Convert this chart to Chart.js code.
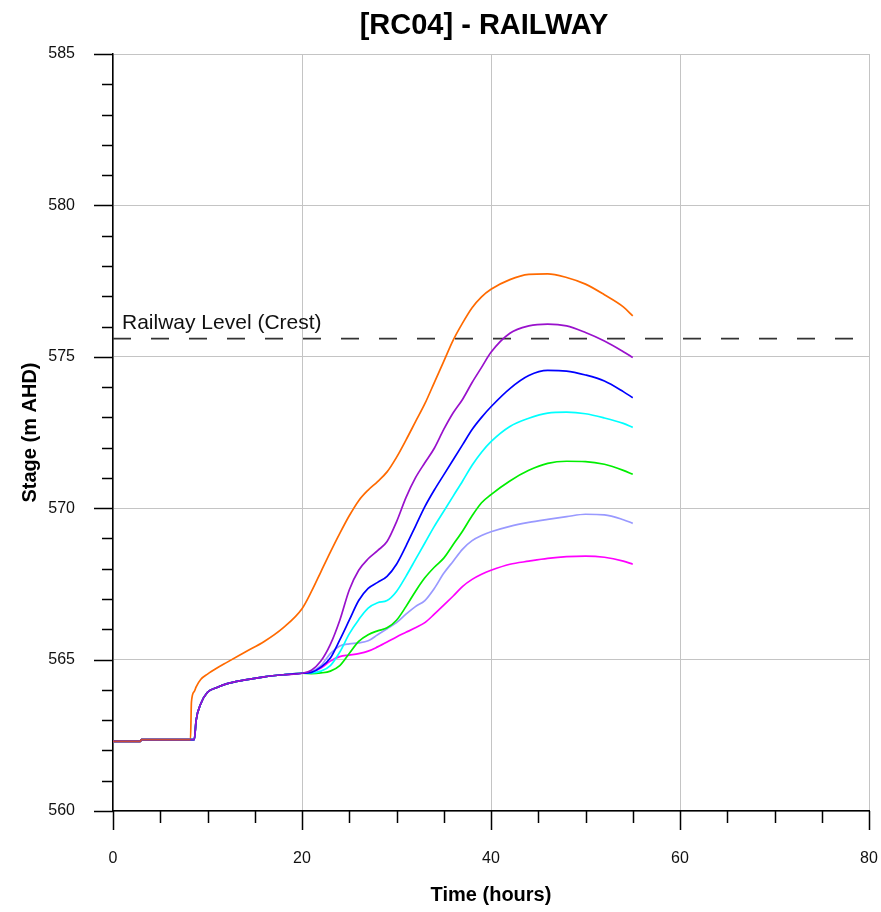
<!DOCTYPE html>
<html>
<head>
<meta charset="utf-8">
<script src="https://cdn.jsdelivr.net/npm/chart.js@4"></script>
<style>
  body { margin: 0; background: #fff; }
  #wrap { width: 881px; height: 912px; }
</style>
</head>
<body>
<div id="wrap"><canvas id="stageChart"></canvas></div>
<script>
// time axis (hours) shared by all runs
const hours = [0, 2.9, 3, 8.2, 8.3, 8.6, 8.8, 9.3, 10, 11, 12, 14, 16, 18,
  20, 21, 22, 23, 24, 25, 26, 27, 28, 29, 30, 31, 32, 33, 34, 35, 36, 37, 38, 39, 40,
  42, 44, 46, 48, 50, 52, 54, 55];

// stage (m AHD) for each run
const orangeStage = [562.3, 562.3, 562.36, 562.36, 563.6, 563.95, 564.1, 564.35, 564.52, 564.72, 564.9, 565.25, 565.6, 566.05,
  566.68, 567.25, 567.9, 568.55, 569.17, 569.75, 570.25, 570.6, 570.88, 571.2, 571.68, 572.25, 572.85, 573.45, 574.15, 574.85, 575.55, 576.12, 576.62, 576.98, 577.23,
  577.55, 577.72, 577.74, 577.62, 577.4, 577.05, 576.65, 576.35];
const purpleStage = [562.3, 562.3, 562.36, 562.36, 562.36, 562.36, 563.0, 563.55, 563.92, 564.08, 564.2, 564.33, 564.43, 564.5,
  564.55, 564.65, 564.95, 565.5, 566.3, 567.3, 567.95, 568.33, 568.6, 568.9, 569.55, 570.35, 571.0, 571.5, 571.98, 572.6, 573.15, 573.6, 574.15, 574.65, 575.15,
  575.78, 576.02, 576.08, 576.02, 575.8, 575.52, 575.17, 574.98];
const blueStage = [562.3, 562.3, 562.36, 562.36, 562.36, 562.36, 563.0, 563.55, 563.92, 564.08, 564.2, 564.33, 564.43, 564.5,
  564.55, 564.58, 564.75, 565.05, 565.65, 566.3, 566.95, 567.35, 567.55, 567.75, 568.15, 568.75, 569.4, 570.05, 570.6, 571.1, 571.6, 572.1, 572.6, 573.0, 573.35,
  573.95, 574.38, 574.55, 574.53, 574.4, 574.2, 573.85, 573.65];
const cyanStage = [562.3, 562.3, 562.36, 562.36, 562.36, 562.36, 563.0, 563.55, 563.92, 564.08, 564.2, 564.33, 564.43, 564.5,
  564.55, 564.56, 564.62, 564.8, 565.25, 565.85, 566.32, 566.7, 566.88, 566.95, 567.25, 567.75, 568.3, 568.85, 569.4, 569.9, 570.4, 570.9, 571.42, 571.85, 572.2,
  572.7, 572.97, 573.14, 573.17, 573.12, 572.98, 572.8, 572.67];
const greenStage = [562.3, 562.3, 562.36, 562.36, 562.36, 562.36, 563.0, 563.55, 563.92, 564.08, 564.2, 564.33, 564.43, 564.5,
  564.55, 564.54, 564.56, 564.62, 564.8, 565.2, 565.6, 565.82, 565.95, 566.05, 566.3, 566.75, 567.25, 567.7, 568.05, 568.35, 568.8, 569.25, 569.75, 570.18, 570.45,
  570.9, 571.25, 571.48, 571.55, 571.54, 571.45, 571.25, 571.12];
const lavenderStage = [562.3, 562.3, 562.36, 562.36, 562.36, 562.36, 563.0, 563.55, 563.92, 564.08, 564.2, 564.33, 564.43, 564.5,
  564.55, 564.6, 564.8, 565.2, 565.45, 565.52, 565.55, 565.62, 565.82, 566.02, 566.22, 566.5, 566.75, 566.95, 567.35, 567.85, 568.25, 568.65, 568.93, 569.1, 569.22,
  569.4, 569.53, 569.63, 569.72, 569.8, 569.78, 569.62, 569.5];
const magentaStage = [562.3, 562.3, 562.36, 562.36, 562.36, 562.36, 563.0, 563.55, 563.92, 564.08, 564.2, 564.33, 564.43, 564.5,
  564.55, 564.58, 564.72, 564.95, 565.1, 565.15, 565.2, 565.28, 565.42, 565.58, 565.75, 565.9, 566.05, 566.22, 566.5, 566.8, 567.1, 567.42, 567.65, 567.82, 567.95,
  568.15, 568.25, 568.34, 568.4, 568.42, 568.38, 568.25, 568.15];
// initial condition before the rise
const initialStage = [562.3, 562.3, 562.36, 562.36];

const crestLevel = 575.6;
const crestHours = [0, 80];
const crestLabel = 'Railway Level (Crest)';

const FONT = '"Liberation Sans", Arial, sans-serif';
const GRID = '#c4c4c4';

function toPoints(vals) {
  return vals.map((v, i) => ({ x: hours[i], y: v }));
}

function run(label, vals, color, order) {
  return {
    label: label,
    data: toPoints(vals),
    borderColor: color,
    borderWidth: 1.7,
    pointRadius: 0,
    fill: false,
    cubicInterpolationMode: 'monotone',
    order: order
  };
}

// major/minor tick marks outside the frame
const tickMarks = {
  id: 'tickMarks',
  afterDraw(chart) {
    const ctx = chart.ctx;
    const area = chart.chartArea;
    const xs = chart.scales.x;
    const ys = chart.scales.y;
    ctx.save();
    ctx.strokeStyle = '#000';
    ctx.lineWidth = 1.5;
    ctx.beginPath();
    xs.ticks.forEach(t => {
      const px = Math.round(xs.getPixelForValue(t.value)) + 0.5;
      const len = t.value % 20 === 0 ? 19 : 12;
      ctx.moveTo(px, area.bottom);
      ctx.lineTo(px, area.bottom + len);
    });
    ys.ticks.forEach(t => {
      const py = Math.round(ys.getPixelForValue(t.value)) + 0.5;
      const len = t.value % 5 === 0 ? 19 : 11;
      ctx.moveTo(area.left, py);
      ctx.lineTo(area.left - len, py);
    });
    ctx.stroke();
    ctx.restore();
  }
};

// chart title and crest label
const texts = {
  id: 'texts',
  afterDraw(chart) {
    const ctx = chart.ctx;
    const area = chart.chartArea;
    const xs = chart.scales.x;
    const ys = chart.scales.y;
    ctx.save();
    ctx.fillStyle = '#000';
    ctx.font = 'bold 29px ' + FONT;
    ctx.textAlign = 'center';
    ctx.textBaseline = 'middle';
    ctx.fillText('[RC04] - RAILWAY', (area.left + area.right) / 2 - 7, 26);

    ctx.font = '21px ' + FONT;
    ctx.fillStyle = '#111';
    ctx.textAlign = 'left';
    ctx.textBaseline = 'alphabetic';
    ctx.fillText(crestLabel, xs.getPixelForValue(0) + 9, ys.getPixelForValue(crestLevel) - 9.5);
    ctx.restore();
  }
};

const ctx = document.getElementById('stageChart').getContext('2d');
new Chart(ctx, {
  type: 'line',
  data: {
    datasets: [
      {
        label: crestLabel,
        data: crestHours.map(h => ({ x: h, y: crestLevel })),
        borderColor: '#333',
        borderWidth: 1.6,
        borderDash: [18, 20],
        pointRadius: 0,
        fill: false,
        order: 9
      },
      run('Orange', orangeStage, '#ff6a00', 8),
      run('Magenta', magentaStage, '#ff00ff', 7),
      run('Lavender', lavenderStage, '#9999ff', 6),
      run('Green', greenStage, '#00ee00', 5),
      run('Cyan', cyanStage, '#00ffff', 4),
      run('Blue', blueStage, '#0000ff', 3),
      run('Purple', purpleStage, '#9911cc', 2),
      run('Initial', initialStage, '#c84a3a', 1)
    ]
  },
  options: {
    responsive: true,
    maintainAspectRatio: false,
    animation: false,
    layout: {
      padding: { top: 54, right: 12, left: 0, bottom: 0 }
    },
    scales: {
      x: {
        type: 'linear',
        min: 0,
        max: 80,
        afterFit: scale => {
          scale.height = 101;
          scale.paddingLeft = 0;
          scale.paddingRight = 0;
        },
        ticks: {
          stepSize: 5,
          autoSkip: false,
          maxRotation: 0,
          padding: 38,
          color: '#111',
          font: { size: 16, family: FONT },
          callback: v => (v % 20 === 0 ? v : '')
        },
        grid: {
          drawTicks: false,
          color: c => (c.tick && c.tick.value % 20 === 0 ? GRID : 'rgba(0,0,0,0)'),
          lineWidth: 1
        },
        border: { color: '#000', width: 1.5 },
        title: {
          display: true,
          text: 'Time (hours)',
          color: '#000',
          font: { size: 20, weight: 'bold', family: FONT },
          padding: { top: 0, bottom: 5 }
        }
      },
      y: {
        min: 560,
        max: 585,
        afterFit: scale => {
          scale.width = 113;
          scale.paddingTop = 0;
          scale.paddingBottom = 0;
        },
        ticks: {
          stepSize: 1,
          autoSkip: false,
          padding: 38,
          color: '#111',
          font: { size: 16, family: FONT },
          callback: v => (v % 5 === 0 ? v : '')
        },
        grid: {
          drawTicks: false,
          color: c => (c.tick && c.tick.value % 5 === 0 ? GRID : 'rgba(0,0,0,0)'),
          lineWidth: 1
        },
        border: { color: '#000', width: 1.5 },
        title: {
          display: true,
          text: 'Stage (m AHD)',
          color: '#000',
          font: { size: 20, weight: 'bold', family: FONT },
          padding: { top: 18, bottom: 0 }
        }
      }
    },
    plugins: {
      legend: { display: false },
      title: { display: false },
      tooltip: { enabled: false }
    }
  },
  plugins: [tickMarks, texts]
});
</script>
</body>
</html>
